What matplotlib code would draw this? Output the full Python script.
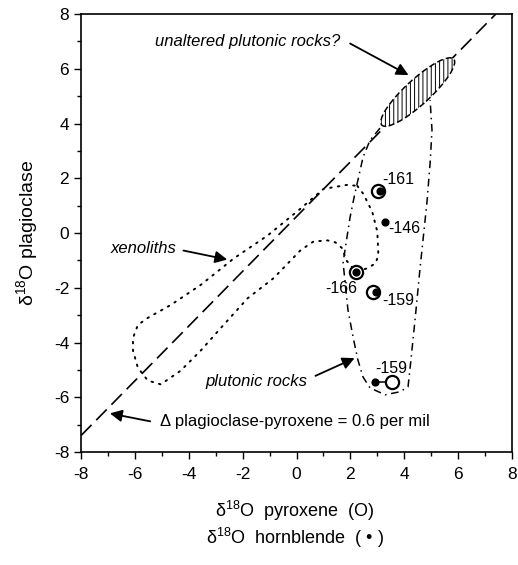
import matplotlib
matplotlib.use("Agg")
import matplotlib.pyplot as plt
from matplotlib.patches import Ellipse
import numpy as np

plt.rcParams['font.family'] = ['Liberation Sans', 'DejaVu Sans']
plt.rcParams['mathtext.fontset'] = 'custom'
plt.rcParams['mathtext.rm'] = 'Liberation Sans'
plt.rcParams['mathtext.it'] = 'Liberation Sans:italic'
plt.rcParams['axes.unicode_minus'] = False
plt.rcParams['hatch.linewidth'] = 0.7
plt.rcParams['hatch.color'] = '#777777'

# pyroxene (open circles) and hornblende (dots), d18O
pyx_x = [3.01, 2.20, 2.85, 3.53]
pyx_y = [1.53, -1.41, -2.16, -5.44]
hbl_x = [3.10, 3.29, 2.20, 2.95, 2.91]
hbl_y = [1.53, 0.41, -1.41, -2.16, -5.44]
# dD labels
lab_text = ['-161', '-146', '-166', '-159', '-159']
lab_x = [3.17, 3.40, 1.06, 3.17, 2.91]
lab_y = [1.97, 0.15, -2.04, -2.48, -4.96]

# delta plag-pyx = 0.6 line
line_x = [-8.0, 7.4]
line_y = [-7.4, 8.0]

# xenolith field (dotted)
xeno_x = [2.26, 2.48, 2.81, 3.00, 3.04, 2.93, 2.63, 2.20, 1.85, 1.70, 1.44, 1.15, 0.63,
          0.15, -0.85, -1.81, -2.81, -3.56, -4.30, -5.04, -5.52, -5.89, -6.07, -6.07,
          -5.89, -5.52, -4.67, -3.56, -2.33, -1.07, 0.15, 1.00, 1.89, 2.26]
xeno_y = [1.72, 1.43, 0.78, 0.05, -0.82, -1.11, -1.29, -1.41, -1.00, -0.56, -0.34, -0.27,
          -0.31, -0.63, -1.65, -2.38, -3.47, -4.30, -5.03, -5.53, -5.39, -4.92, -4.30,
          -3.83, -3.36, -3.10, -2.63, -1.90, -0.93, -0.09, 0.89, 1.61, 1.76, 1.72]

# plutonic rocks field (dash-dot)
plut_x = [3.10, 2.73, 2.47, 2.28, 2.17, 1.99, 1.80, 1.73, 1.91, 2.10, 2.28, 2.47, 2.73,
          3.29, 3.84, 4.14, 4.21, 4.40, 4.58, 4.84, 4.96, 5.03, 4.96]
plut_y = [3.83, 3.39, 2.77, 1.93, 1.46, 0.58, -0.62, -1.09, -2.81, -3.80, -4.64, -5.26,
          -5.66, -5.91, -5.80, -5.62, -5.00, -3.18, -1.35, 1.09, 2.55, 3.76, 4.85]

fig = plt.figure(figsize=(5.18, 5.65), dpi=100)
ax = fig.add_axes([0.1564, 0.2, 0.832, 0.7752])
ax.set_xlim(-8, 8)
ax.set_ylim(-8, 8)

ax.plot(line_x, line_y, color='black', lw=1.2, dashes=(9, 4))

# unaltered plutonic rocks ellipse
ell = Ellipse((4.5, 5.15), width=3.6, height=0.92, angle=42, facecolor='white',
              edgecolor='black', lw=1.1, linestyle=(0, (4, 2)), hatch='||||', zorder=3)
ax.add_patch(ell)

ax.plot(xeno_x, xeno_y, color='black', lw=1.4, linestyle=(0, (0.8, 3.2)),
        dash_capstyle='round')
ax.plot(plut_x, plut_y, color='black', lw=1.1, linestyle=(0, (5, 3, 1, 3)))

# hornblende-pyroxene tie for -159
ax.plot([hbl_x[4], pyx_x[3]], [hbl_y[4], pyx_y[3]], color='black', lw=1.1, zorder=4)
ax.scatter(pyx_x, pyx_y, s=90, facecolor='white', edgecolor='black', linewidths=1.6, zorder=5)
ax.scatter(hbl_x, hbl_y, s=24, color='black', zorder=6)

for t, x, y in zip(lab_text, lab_x, lab_y):
    ax.text(x, y, t, fontsize=11.5, ha='left', va='center')

arrow = dict(arrowstyle='-|>', color='black', lw=1.3, mutation_scale=18)
ax.annotate('', xy=(4.25, 5.72), xytext=(1.9, 6.97), arrowprops=arrow)
ax.text(1.61, 7.0, 'unaltered plutonic rocks?', fontsize=12, style='italic',
        ha='right', va='center')
ax.annotate('', xy=(-2.47, -0.99), xytext=(-4.3, -0.62), arrowprops=arrow)
ax.text(-5.69, -0.55, 'xenoliths', fontsize=12, style='italic', ha='center', va='center')
ax.annotate('', xy=(2.25, -4.53), xytext=(0.61, -5.26), arrowprops=arrow)
ax.text(-1.5, -5.44, 'plutonic rocks', fontsize=12, style='italic', ha='center', va='center')
ax.annotate('', xy=(-7.03, -6.57), xytext=(-5.33, -6.9), arrowprops=arrow)
ax.text(-5.07, -6.9, 'Δ plagioclase-pyroxene = 0.6 per mil', fontsize=12,
        ha='left', va='center')

ax.set_xticks(np.arange(-8, 9, 2))
ax.set_yticks(np.arange(-8, 9, 2))
ax.set_xticks(np.arange(-8, 9, 1), minor=True)
ax.set_yticks(np.arange(-8, 9, 1), minor=True)
ax.tick_params(which='major', length=5, width=1, labelsize=12.5, direction='out')
ax.tick_params(which='minor', length=3, width=1, direction='out')
ax.tick_params(axis='x', pad=6)
for s in ax.spines.values():
    s.set_linewidth(1.2)

ax.set_ylabel('δ$^{18}$O plagioclase', fontsize=14, labelpad=10)
fig.text(0.5695, 1 - 511 / 565, 'δ$^{18}$O  pyroxene  (O)', fontsize=13,
         ha='center', va='center')
fig.text(0.5695, 1 - 538 / 565, 'δ$^{18}$O  hornblende  ( • )', fontsize=13,
         ha='center', va='center')

fig.savefig('out.png', dpi=100)
